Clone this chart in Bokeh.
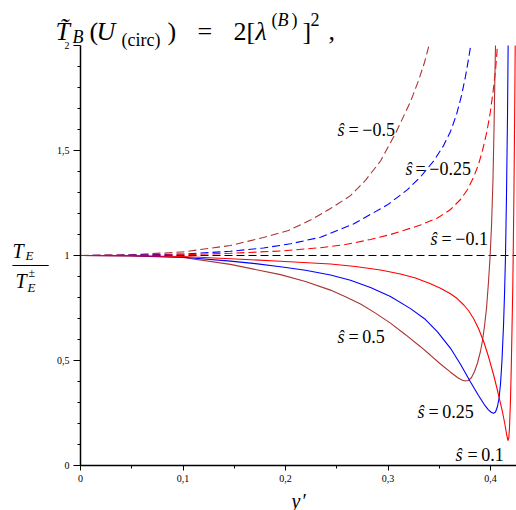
from bokeh.plotting import figure
from bokeh.models import Label, FixedTicker
from bokeh.embed import file_html
from bokeh.resources import INLINE

# ---------------- data ----------------
# s = 0.5 (solid, brown)
x_p05 = [0, 0.0488, 0.1, 0.1463, 0.1951, 0.2195, 0.2439, 0.2585, 0.2732, 0.2878, 0.3024, 0.3171,
         0.3317, 0.3415, 0.3512, 0.3610, 0.3688, 0.3727, 0.3756, 0.3785, 0.3815, 0.3844, 0.3873,
         0.3902, 0.3922, 0.3941, 0.3961, 0.3980, 0.3995, 0.4010, 0.4024, 0.4034, 0.4044, 0.4049]
y_p05 = [1.0, 0.9981, 0.9905, 0.9576, 0.9090, 0.8762, 0.8352, 0.8033, 0.7686, 0.7257, 0.6781, 0.6229,
         0.5657, 0.5248, 0.4833, 0.4443, 0.4157, 0.4057, 0.4024, 0.4048, 0.4190, 0.4476, 0.4881,
         0.5429, 0.5952, 0.6619, 0.7476, 0.8714, 0.9857, 1.1429, 1.3571, 1.5952, 1.8810, 2.0]
# s = 0.25 (solid, blue)
x_p025 = [0, 0.0488, 0.1, 0.1463, 0.1707, 0.1951, 0.2195, 0.2439, 0.2634, 0.2829, 0.3024, 0.3220,
          0.3366, 0.3483, 0.3610, 0.3707, 0.3805, 0.3883, 0.3941, 0.3980, 0.4010, 0.4029, 0.4049,
          0.4068, 0.4083, 0.4098, 0.4112, 0.4127, 0.4137, 0.4146, 0.4156, 0.4166, 0.4172]
y_p025 = [1.0, 0.9986, 0.9914, 0.9733, 0.9614, 0.9467, 0.9300, 0.9071, 0.8824, 0.8481, 0.8043, 0.7471,
          0.695, 0.636, 0.558, 0.482, 0.398, 0.333, 0.289, 0.265, 0.2525, 0.249, 0.2548,
          0.2810, 0.3190, 0.3905, 0.5, 0.6667, 0.8190, 0.9905, 1.2857, 1.6667, 2.0]
# s = 0.1 (solid, red)
x_p01 = [0, 0.0488, 0.1, 0.1463, 0.1951, 0.2439, 0.2683, 0.2927, 0.3122, 0.3268, 0.3415, 0.3512,
         0.3610, 0.3678, 0.3740, 0.3785, 0.3837, 0.3883, 0.3935, 0.3980, 0.4032, 0.4073, 0.4114,
         0.4141, 0.4159, 0.4171, 0.4179, 0.4185, 0.4195, 0.4203, 0.4212, 0.4218, 0.4222, 0.4229,
         0.4236, 0.4241]
y_p01 = [1.0, 0.9990, 0.9952, 0.9848, 0.9729, 0.9595, 0.9476, 0.9310, 0.9119, 0.8929, 0.8652, 0.8438,
         0.8176, 0.7938, 0.7643, 0.7381, 0.6976, 0.6524, 0.5881, 0.5190, 0.4286, 0.3476, 0.2619,
         0.1952, 0.1429, 0.1190, 0.1333, 0.1762, 0.3095, 0.4762, 0.7062, 0.8667, 1.0238, 1.3095,
         1.6905, 2.0]
# s = -0.5 (dashed, brown)
x_m05 = [0, 0.0488, 0.1, 0.1463, 0.1785, 0.2029, 0.2244, 0.2439, 0.2634, 0.2780, 0.2927, 0.3073,
         0.3220, 0.3298, 0.3356, 0.3400]
y_m05 = [1.0, 1.0033, 1.0171, 1.0476, 1.0857, 1.1190, 1.1690, 1.2238, 1.2850, 1.3580, 1.4500, 1.5810,
         1.7333, 1.8333, 1.9190, 2.0]
# s = -0.25 (dashed, blue)
x_m025 = [0, 0.0488, 0.1, 0.1463, 0.1785, 0.2049, 0.2341, 0.2663, 0.2995, 0.3190, 0.3317, 0.3444,
          0.3541, 0.3610, 0.3668, 0.3717, 0.3756, 0.3785, 0.3807]
y_m025 = [1.0, 1.0019, 1.0071, 1.0200, 1.0357, 1.0557, 1.0871, 1.1499, 1.2412, 1.3134, 1.3744, 1.4493,
          1.5221, 1.5910, 1.6705, 1.7612, 1.8529, 1.9340, 2.0]
# s = -0.1 (dashed, red)
x_m01 = [0, 0.0488, 0.1, 0.1463, 0.1951, 0.2341, 0.2585, 0.2829, 0.3024, 0.3151, 0.3317, 0.3483,
         0.3610, 0.3707, 0.3776, 0.3834, 0.3883, 0.3922, 0.3961, 0.3995, 0.4024, 0.4049, 0.4068]
y_m01 = [1.0, 1.0010, 1.0033, 1.0105, 1.0214, 1.0371, 1.0524, 1.0762, 1.1000, 1.1190, 1.1452, 1.1786,
         1.2190, 1.2667, 1.3143, 1.3714, 1.4333, 1.5, 1.5810, 1.6714, 1.7762, 1.8810, 2.0]

# reference level T_E / T_E^± = 1 (black dashed)
ref_x_line = [0, 0.4254]
ref_y_line = [1.0, 1.0]

x_ticks = [0, 0.1, 0.2, 0.3, 0.4]
x_minor = [0.05, 0.15, 0.25, 0.35]
x_tick_labels = {0: "0", 0.1: "0,1", 0.2: "0,2", 0.3: "0,3", 0.4: "0,4"}
y_ticks = [0, 0.5, 1, 1.5, 2]
y_minor = [0.1, 0.2, 0.3, 0.4, 0.6, 0.7, 0.8, 0.9, 1.1, 1.2, 1.3, 1.4, 1.6, 1.7, 1.8, 1.9]
y_tick_labels = {0: "0", 0.5: "0,5", 1: "1", 1.5: "1,5", 2: "2"}

curve_labels = ["−0.5", "−0.25", "−0.1", "0.5", "0.25", "0.1"]

BROWN = "#AA3333"
RED = "#FF0000"
BLUE = "#0000FF"
FONT = "Liberation Serif"

# ---------------- layout ----------------
W, H = 516, 510
X0_PX, Y0_PX = 80, 465       # pixel of data (0, 0)
SX, SY = 1025.0, 210.0       # pixels per data unit


def px_x(px):
    return (px - X0_PX) / SX


def py_y(py):
    return (Y0_PX - py) / SY


p = figure(width=W, height=H,
           x_range=(px_x(0), px_x(W)), y_range=(py_y(H), py_y(0)),
           output_backend="svg", toolbar_location=None,
           min_border_left=0, min_border_right=0, min_border_top=0, min_border_bottom=0)
p.outline_line_color = None
p.xgrid.visible = False
p.ygrid.visible = False
p.background_fill_color = "white"
p.border_fill_color = "white"

for ax, ticks, minor, labels, tout, bnds in ((p.xaxis[0], x_ticks, x_minor, x_tick_labels, 5, (0, px_x(W))),
                                             (p.yaxis[0], y_ticks, y_minor, y_tick_labels, 7, (0, 2))):
    ax.fixed_location = 0
    ax.bounds = bnds
    ax.ticker = FixedTicker(ticks=ticks, minor_ticks=minor)
    ax.major_label_overrides = labels
    ax.axis_line_width = 1.5
    ax.axis_line_color = "black"
    ax.major_tick_line_color = "black"
    ax.minor_tick_line_color = "black"
    ax.major_tick_out = tout
    ax.major_tick_in = 0
    ax.minor_tick_out = 3
    ax.minor_tick_in = 0
    ax.major_label_text_font = FONT
    ax.major_label_text_font_size = "10px"
    ax.major_label_text_color = "black"
    ax.major_label_standoff = 4

p.line(ref_x_line, ref_y_line, line_color="black", line_width=1.1, line_dash="8 4")

p.line(x_m05, y_m05, line_color=BROWN, line_width=1.1, line_dash="8 4")
p.line(x_m025, y_m025, line_color=BLUE, line_width=1.1, line_dash="8 4")
p.line(x_m01, y_m01, line_color=RED, line_width=1.1, line_dash="8 4")
p.line(x_p05, y_p05, line_color=BROWN, line_width=1.1)
p.line(x_p025, y_p025, line_color=BLUE, line_width=1.1)
p.line(x_p01, y_p01, line_color=RED, line_width=1.1)


def lab(px, py, text, size, style="normal"):
    p.add_layout(Label(x=px_x(px), y=py_y(py), text=text, text_font=FONT,
                       text_font_size=f"{size}px", text_font_style=style,
                       text_baseline="alphabetic", text_align="left", text_color="black"))


# curve labels (pixel positions of "s", "=" and baseline)
label_pos = [(337, 348, 129), (405, 415, 168), (430, 441, 238),
             (337, 348, 336), (417, 428, 411), (455, 467, 454)]
for txt, (sx, ex, by) in zip(curve_labels, label_pos):
    lab(sx, by, "s\u0302", 18, "italic")
    lab(ex, by, "=\u2009" + txt, 18)

# y-axis label: T_E / T_E^±
lab(12, 250, "T", 20, "italic")
lab(25, 255, "E", 13, "italic")
lab(12, 263, "\u2014\u2014", 18)
lab(15, 280, "T", 20, "italic")
lab(27, 287, "E", 13, "italic")
lab(28, 272, "\u00b1", 12)

# x-axis label
lab(291, 500, "y", 20, "italic")
lab(302, 500, "\u2032", 20)

# heading formula
TB = 31
lab(55, TB, "T\u0303", 26, "italic")
lab(72, TB + 5, "B", 18, "italic")
lab(89, TB, "(", 26)
lab(96, TB, "U", 26, "italic")
lab(121, TB + 8, "(circ)", 18)
lab(167, TB, ")", 26)
lab(197, TB, "=", 26)
lab(233, TB, "2[", 26)
lab(255, TB, "\u03bb", 26, "italic")
lab(271, TB - 12, "(", 18)
lab(277, TB - 12, "B", 18, "italic")
lab(291, TB - 12, ")", 18)
lab(302, TB, "]", 26)
lab(310, TB - 12, "2", 18)
lab(328, TB, ",", 26)

open("out.html", "w").write(file_html(p, INLINE))
